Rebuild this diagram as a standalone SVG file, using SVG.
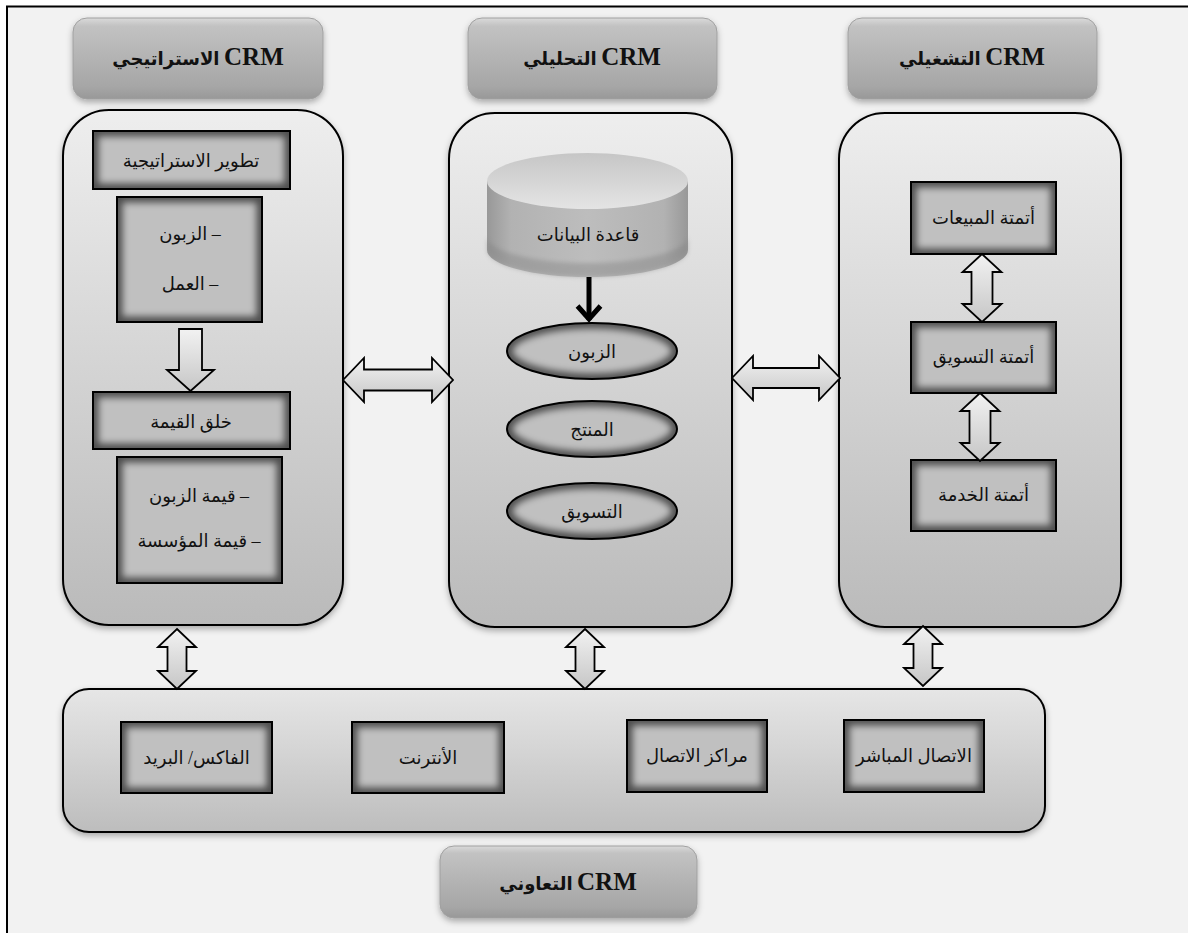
<svg xmlns="http://www.w3.org/2000/svg" width="1188" height="933" viewBox="0 0 1188 933">
  <defs>
    <style>
      .lbl { font-family: "Liberation Serif", "DejaVu Sans", serif; font-size: 18px; fill: #111; text-anchor: middle; direction: rtl; }
      .hdr { font-family: "Liberation Serif", "DejaVu Sans", serif; font-size: 18px; font-weight: bold; fill: #111; text-anchor: middle; direction: rtl; }
      .crm { font-size: 25px; }
      .panel { fill: url(#panelGrad); stroke: #000; stroke-width: 2; filter: url(#drop); }
      .head { fill: url(#headGrad); stroke: #a0a0a0; stroke-width: 1; filter: url(#drop); }
      .fill { fill: #c0c0c0; stroke: none; }
      .shade { fill: none; stroke: #000; stroke-width: 11; stroke-opacity: 0.6; filter: url(#blur); clip-path: url(#bboxRect); }
      .shadeOval { fill: none; stroke: #000; stroke-width: 11; stroke-opacity: 0.6; filter: url(#blur); clip-path: url(#bboxOval); }
      .edge { fill: none; stroke: #000; stroke-width: 2; }
      .hollow { fill: url(#arrowGrad); stroke: #000; stroke-width: 1.8; stroke-linejoin: miter; }
    </style>
    <clipPath id="bboxRect" clipPathUnits="objectBoundingBox">
      <rect x="0" y="0" width="1" height="1"/>
    </clipPath>
    <clipPath id="bboxOval" clipPathUnits="objectBoundingBox">
      <ellipse cx="0.5" cy="0.5" rx="0.5" ry="0.5"/>
    </clipPath>
    <linearGradient id="panelGrad" x1="0" y1="0" x2="0" y2="1">
      <stop offset="0" stop-color="#eeeeee"/>
      <stop offset="1" stop-color="#bababa"/>
    </linearGradient>
    <linearGradient id="bandGrad" x1="0" y1="0" x2="0" y2="1">
      <stop offset="0" stop-color="#e6e6e6"/>
      <stop offset="1" stop-color="#bdbdbd"/>
    </linearGradient>
    <linearGradient id="headGrad" x1="0" y1="0" x2="0" y2="1">
      <stop offset="0" stop-color="#dadada"/>
      <stop offset="0.1" stop-color="#c2c2c2"/>
      <stop offset="0.85" stop-color="#a6a6a6"/>
      <stop offset="1" stop-color="#989898"/>
    </linearGradient>
    <linearGradient id="arrowGrad" x1="0" y1="0" x2="0" y2="1">
      <stop offset="0" stop-color="#f2f2f2"/>
      <stop offset="1" stop-color="#c6c6c6"/>
    </linearGradient>
    <linearGradient id="cylBody" x1="0" y1="0" x2="1" y2="0">
      <stop offset="0" stop-color="#989898"/>
      <stop offset="0.12" stop-color="#b2b2b2"/>
      <stop offset="0.5" stop-color="#bdbdbd"/>
      <stop offset="0.88" stop-color="#b2b2b2"/>
      <stop offset="1" stop-color="#989898"/>
    </linearGradient>
    <linearGradient id="cylTop" x1="0" y1="0" x2="0" y2="1">
      <stop offset="0" stop-color="#c6c6c6"/>
      <stop offset="1" stop-color="#e4e4e4"/>
    </linearGradient>
    <filter id="drop" x="-10%" y="-10%" width="120%" height="125%">
      <feDropShadow dx="0" dy="3" stdDeviation="3" flood-color="#000" flood-opacity="0.3"/>
    </filter>
    <filter id="blur" x="-20%" y="-20%" width="140%" height="140%">
      <feGaussianBlur stdDeviation="3.5"/>
    </filter>
    <filter id="soft" x="-10%" y="-10%" width="120%" height="120%">
      <feGaussianBlur stdDeviation="2"/>
    </filter>
  </defs>

  <!-- page and frame -->
  <rect x="0" y="0" width="1188" height="933" fill="#ffffff"/>
  <rect x="7" y="7" width="1181" height="926" fill="#f2f2f2"/>
  <path d="M7,933 V6.5 H1188" fill="none" stroke="#000" stroke-width="2"/>

  <!-- column headers -->
  <g id="hdr-strategic">
    <rect class="head" x="73" y="18" width="250" height="81" rx="14"/>
    <text class="hdr" x="198" y="65"><tspan class="crm">CRM</tspan> الاستراتيجي</text>
  </g>
  <g id="hdr-analytical">
    <rect class="head" x="468" y="18" width="249" height="81" rx="14"/>
    <text class="hdr" x="592" y="65"><tspan class="crm">CRM</tspan> التحليلي</text>
  </g>
  <g id="hdr-operational">
    <rect class="head" x="848" y="18" width="249" height="81" rx="14"/>
    <text class="hdr" x="972" y="65"><tspan class="crm">CRM</tspan> التشغيلي</text>
  </g>

  <!-- strategic panel -->
  <g id="panel-strategic">
    <rect class="panel" x="63" y="110" width="280" height="515" rx="46"/>
  </g>
  <g id="strategy-dev">
    <rect class="fill" x="93" y="131" width="197" height="58"/>
    <rect class="shade" x="93" y="131" width="197" height="58"/>
    <rect class="edge" x="93" y="131" width="197" height="58"/>
    <text class="lbl" x="191" y="167">تطوير الاستراتيجية</text>
  </g>
  <g id="strategy-items">
    <rect class="fill" x="117" y="197" width="145" height="125"/>
    <rect class="shade" x="117" y="197" width="145" height="125"/>
    <rect class="edge" x="117" y="197" width="145" height="125"/>
    <text class="lbl" x="190" y="240">– الزبون</text>
    <text class="lbl" x="190" y="290">– العمل</text>
  </g>
  <g id="value-creation">
    <rect class="fill" x="93" y="392" width="197" height="57"/>
    <rect class="shade" x="93" y="392" width="197" height="57"/>
    <rect class="edge" x="93" y="392" width="197" height="57"/>
    <text class="lbl" x="191" y="428">خلق القيمة</text>
  </g>
  <g id="value-items">
    <rect class="fill" x="117" y="457" width="165" height="126"/>
    <rect class="shade" x="117" y="457" width="165" height="126"/>
    <rect class="edge" x="117" y="457" width="165" height="126"/>
    <text class="lbl" x="199" y="502">– قيمة الزبون</text>
    <text class="lbl" x="199" y="547">– قيمة المؤسسة</text>
  </g>

  <!-- analytical panel -->
  <g id="panel-analytical">
    <rect class="panel" x="449" y="113" width="283" height="514" rx="46"/>
  </g>
  <g id="database">
    <path d="M487,181 V250 A100.5,27 0 0 0 688,250 V181 Z" fill="url(#cylBody)"/>
    <path d="M487,236 V250 A100.5,27 0 0 0 688,250 V236 A100.5,27 0 0 1 487,236 Z" fill="#808080" opacity="0.4" filter="url(#soft)"/>
    <ellipse cx="587.5" cy="181" rx="100.5" ry="28" fill="url(#cylTop)"/>
    <text class="lbl" x="588" y="241">قاعدة البيانات</text>
  </g>
  <g id="seg-customer">
    <ellipse class="fill" cx="592" cy="351" rx="85" ry="28"/>
    <ellipse class="shadeOval" cx="592" cy="351" rx="85" ry="28"/>
    <ellipse class="edge" cx="592" cy="351" rx="85" ry="28"/>
    <text class="lbl" x="592" y="358">الزبون</text>
  </g>
  <g id="seg-product">
    <ellipse class="fill" cx="592" cy="429" rx="85" ry="28"/>
    <ellipse class="shadeOval" cx="592" cy="429" rx="85" ry="28"/>
    <ellipse class="edge" cx="592" cy="429" rx="85" ry="28"/>
    <text class="lbl" x="592" y="436">المنتج</text>
  </g>
  <g id="seg-marketing">
    <ellipse class="fill" cx="592" cy="511" rx="85" ry="28"/>
    <ellipse class="shadeOval" cx="592" cy="511" rx="85" ry="28"/>
    <ellipse class="edge" cx="592" cy="511" rx="85" ry="28"/>
    <text class="lbl" x="592" y="518">التسويق</text>
  </g>

  <!-- operational panel -->
  <g id="panel-operational">
    <rect class="panel" x="839" y="113" width="282" height="514" rx="46"/>
  </g>
  <g id="sales-auto">
    <rect class="fill" x="911" y="182" width="145" height="72"/>
    <rect class="shade" x="911" y="182" width="145" height="72"/>
    <rect class="edge" x="911" y="182" width="145" height="72"/>
    <text class="lbl" x="983.5" y="224">أتمتة المبيعات</text>
  </g>
  <g id="marketing-auto">
    <rect class="fill" x="911" y="322" width="145" height="71"/>
    <rect class="shade" x="911" y="322" width="145" height="71"/>
    <rect class="edge" x="911" y="322" width="145" height="71"/>
    <text class="lbl" x="983.5" y="363">أتمتة التسويق</text>
  </g>
  <g id="service-auto">
    <rect class="fill" x="911" y="460" width="145" height="71"/>
    <rect class="shade" x="911" y="460" width="145" height="71"/>
    <rect class="edge" x="911" y="460" width="145" height="71"/>
    <text class="lbl" x="983.5" y="501">أتمتة الخدمة</text>
  </g>

  <!-- collaborative channels -->
  <g id="channels">
    <rect x="63" y="689" width="982" height="143" rx="26" fill="url(#bandGrad)" stroke="#000" stroke-width="2" filter="url(#drop)"/>
  </g>
  <g id="ch-fax">
    <rect class="fill" x="121" y="722" width="151" height="71"/>
    <rect class="shade" x="121" y="722" width="151" height="71"/>
    <rect class="edge" x="121" y="722" width="151" height="71"/>
    <text class="lbl" x="196.5" y="764">الفاكس/ البريد</text>
  </g>
  <g id="ch-internet">
    <rect class="fill" x="352" y="722" width="152" height="71"/>
    <rect class="shade" x="352" y="722" width="152" height="71"/>
    <rect class="edge" x="352" y="722" width="152" height="71"/>
    <text class="lbl" x="428" y="764">الأنترنت</text>
  </g>
  <g id="ch-callcenter">
    <rect class="fill" x="627" y="720" width="140" height="72"/>
    <rect class="shade" x="627" y="720" width="140" height="72"/>
    <rect class="edge" x="627" y="720" width="140" height="72"/>
    <text class="lbl" x="697" y="762">مراكز الاتصال</text>
  </g>
  <g id="ch-direct">
    <rect class="fill" x="844" y="720" width="140" height="72"/>
    <rect class="shade" x="844" y="720" width="140" height="72"/>
    <rect class="edge" x="844" y="720" width="140" height="72"/>
    <text class="lbl" x="914" y="762">الاتصال المباشر</text>
  </g>
  <g id="hdr-collaborative">
    <rect class="head" x="440" y="846" width="257" height="72" rx="14"/>
    <text class="hdr" x="568" y="890"><tspan class="crm">CRM</tspan> التعاوني</text>
  </g>

  <!-- connectors -->
  <g id="connectors">
    <!-- strategy definition flows into value creation -->
    <path class="hollow" d="M179,329 H202 V370 H214 L190.5,391 L167,370 H179 Z"/>
    <!-- strategic <-> analytical -->
    <path class="hollow" d="M343,380 L364,358 V369.5 H432 V358 L453,380 L432,402 V390.5 H364 V402 Z"/>
    <!-- analytical <-> operational -->
    <path class="hollow" d="M732,378 L753,356 V368 H819 V356 L840,378 L819,400 V388 H753 V400 Z"/>
    <!-- operational automation chain -->
    <path class="hollow" d="M982,254 L1001.5,272 H992.5 V304 H1001.5 L982,322 L962.5,304 H971.5 V272 H962.5 Z"/>
    <path class="hollow" d="M980,393 L999.5,411 H990.5 V443 H999.5 L980,461 L960.5,443 H969.5 V411 H960.5 Z"/>
    <!-- panels <-> channels -->
    <path class="hollow" d="M177,629 L196,647 H186.5 V671 H196 L177,689 L158,671 H167.5 V647 H158 Z"/>
    <path class="hollow" d="M585,629 L604,647 H594.5 V671 H604 L585,689 L566,671 H575.5 V647 H566 Z"/>
    <path class="hollow" d="M923,626 L942,644 H932.5 V668 H942 L923,686 L904,668 H913.5 V644 H904 Z"/>
    <!-- database feeds the segments -->
    <line x1="589" y1="277" x2="589" y2="320" stroke="#000" stroke-width="5"/>
    <polyline points="577.5,306 589,319 600.5,306" fill="none" stroke="#000" stroke-width="5" stroke-linejoin="miter"/>
  </g>
</svg>
